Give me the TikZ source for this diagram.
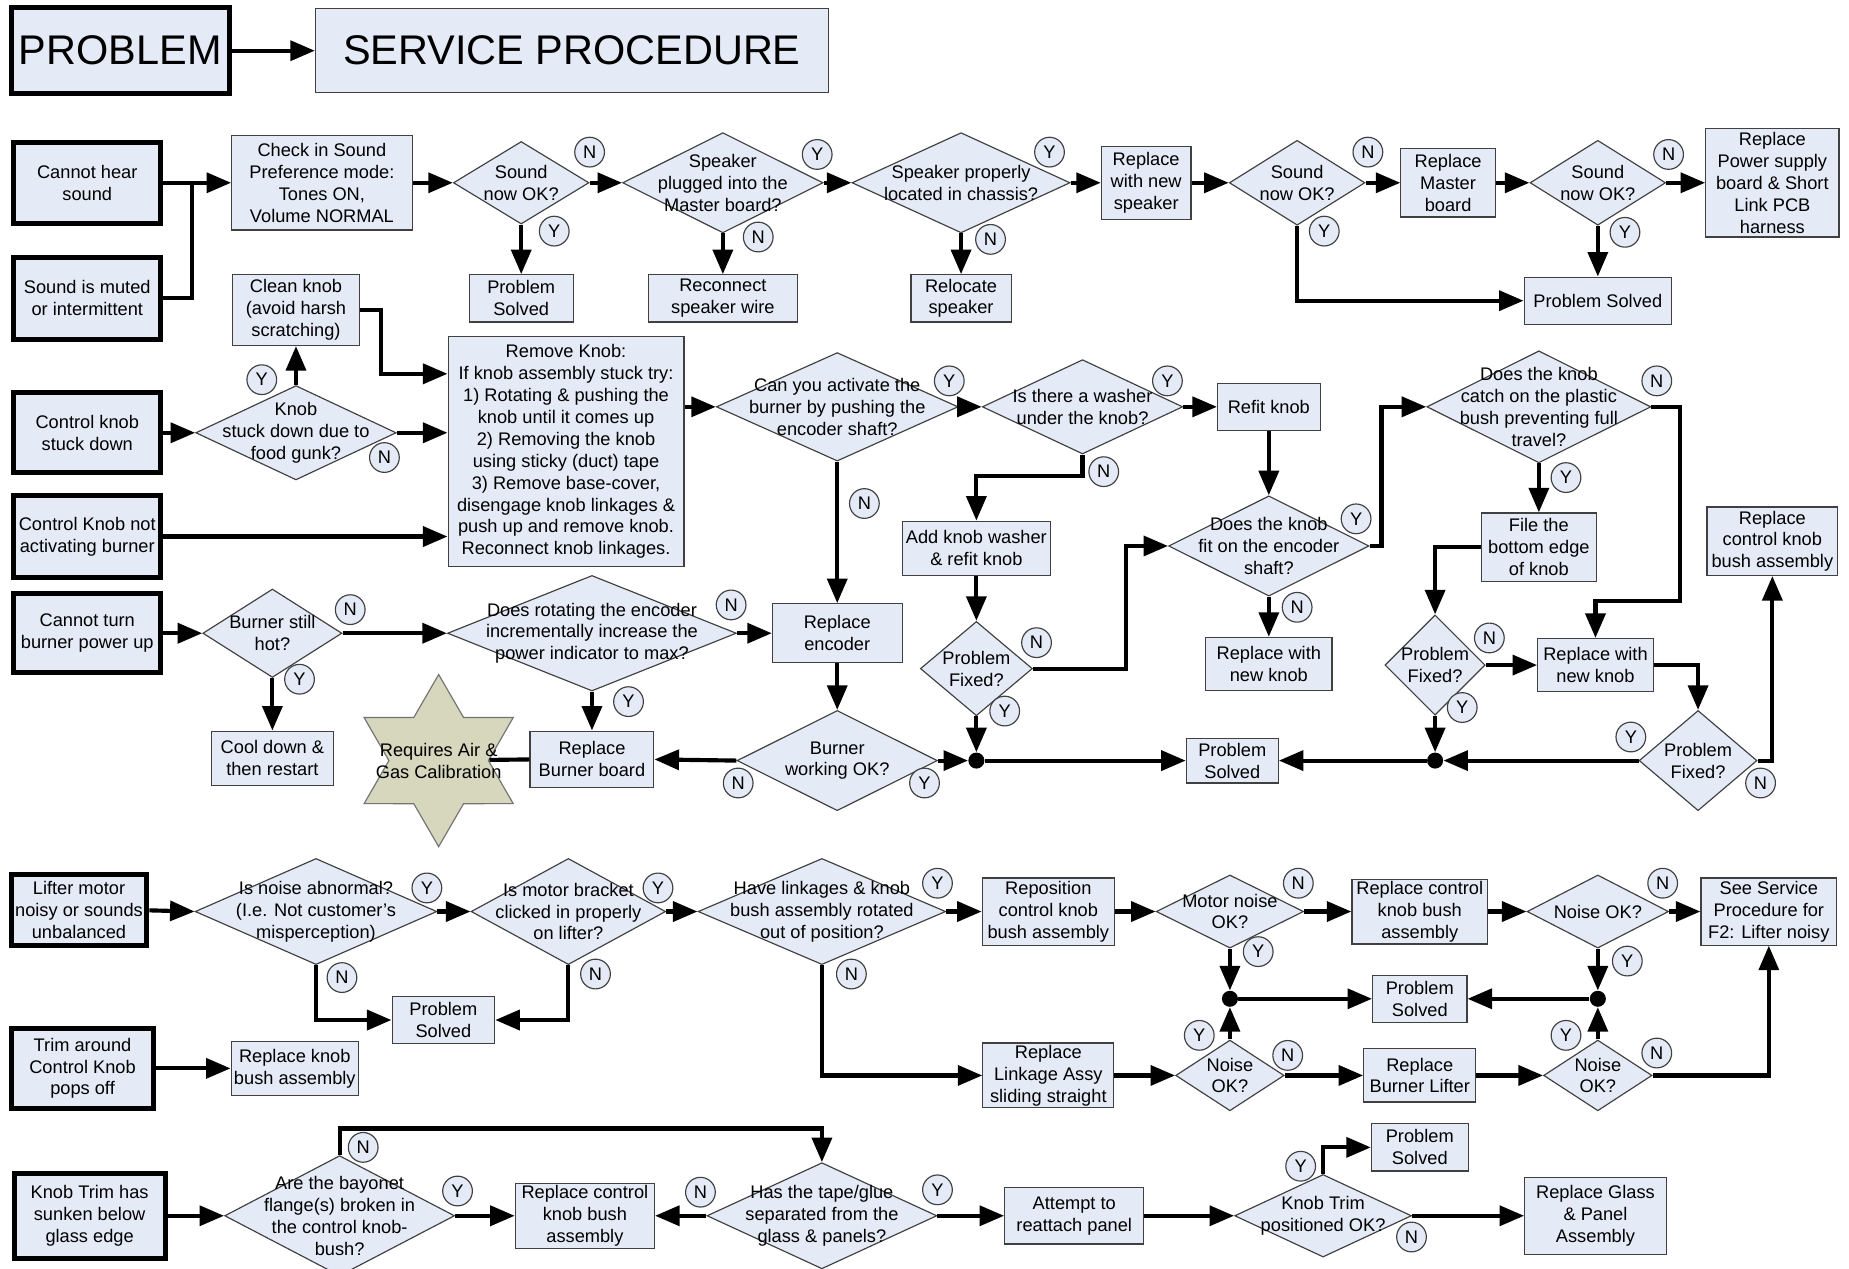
\documentclass[tikz,border=0pt]{standalone}
\usepackage{fontspec}
\setmainfont{Liberation Sans}
\usetikzlibrary{arrows.meta, positioning, shapes.geometric}
\definecolor{boxfill}{RGB}{228,234,246}
\definecolor{starfill}{RGB}{214,215,188}
\definecolor{rimgray}{RGB}{64,64,64}

\begin{document}
\begin{tikzpicture}[
  x=0.25mm, y=-0.25mm,
  font=\fontsize{11}{13.2}\selectfont,
  box/.style={rectangle, draw=rimgray, fill=boxfill, line width=0.7pt, align=center, inner sep=1pt},
  prob/.style={box, draw=black, line width=3pt},
  dec/.style={diamond, draw=rimgray, fill=boxfill, line width=0.7pt, inner sep=0pt, label={[align=center]center:#1}},
  calib/.style={star, star points=6, star point ratio=1.73, draw=black!55, fill=starfill, line width=0.7pt, inner sep=0pt, minimum size=36.5mm, label={[align=center]center:#1}},
  yn/.style={circle, draw=rimgray, fill=boxfill, line width=0.7pt, inner sep=0pt, minimum size=6.3mm},
  dot/.style={circle, fill=black, inner sep=0pt, minimum size=3.4mm},
  sz/.style 2 args={minimum width=#1*0.25mm, minimum height=#2*0.25mm},
  flow/.style={line width=2.5pt, -{Triangle[length=5.2mm, width=4.2mm]}},
  wire/.style={line width=2.5pt},
  bigtext/.style={font=\fontsize{25}{30}\selectfont}
]
  \useasboundingbox (0,0) rectangle (1568,1076);
  \node[prob, bigtext, sz={185}{73}] (problem) at (102,43) {PROBLEM};
  \node[box, bigtext, sz={435}{71}] (service) at (485,43) {SERVICE PROCEDURE};

  \node[prob, sz={125}{69}] (cannot) at (74,155) {Cannot hear\\sound};
  \node[prob, sz={125}{69}] (muted) at (74,253) {Sound is muted\\or intermittent};
  \coordinate (jm) at (163,155);
  \node[box, sz={153}{80}] (check) at (273,155) {Check in Sound\\Preference mode:\\Tones ON,\\Volume NORMAL};
  \node[dec={Sound\\now OK?}, sz={115}{70}] (d1) at (442,155) {};
  \node[box, sz={88}{40}] (ps1) at (442,253) {Problem\\Solved};
  \node[dec={Speaker\\plugged into the\\Master board?}, sz={170}{85}] (d2) at (613,155) {};
  \node[box, sz={126}{40}] (reconnect) at (613,253) {Reconnect\\speaker wire};
  \node[dec={Speaker properly\\located in chassis?}, sz={185}{85}] (d3) at (815,155) {};
  \node[box, sz={85}{40}] (relocate) at (815,253) {Relocate\\speaker};
  \node[box, sz={76}{62}] (newspk) at (972,155) {Replace\\with new\\speaker};
  \node[dec={Sound\\now OK?}, sz={115}{72}] (d4) at (1100,155) {};
  \node[box, sz={80}{58}] (master) at (1228,155) {Replace\\Master\\board};
  \node[dec={Sound\\now OK?}, sz={115}{72}] (d5) at (1355,155) {};
  \node[box, sz={113}{92}] (psu) at (1503,155) {Replace\\Power supply\\board \& Short\\Link PCB\\harness};
  \node[box, sz={125}{40}] (ps2) at (1355,255) {Problem Solved};

  \node[box, sz={108}{60}] (clean) at (251,263) {Clean knob\\(avoid harsh\\scratching)};
  \node[prob, sz={125}{68}] (stuck) at (74,367) {Control knob\\stuck down};
  \node[dec={Knob\\stuck down due to\\food gunk?}, sz={170}{80}] (dknob) at (251,367) {};
  \node[box, sz={200}{195}] (remove) at (480,383) {Remove Knob:\\If knob assembly stuck try:\\1) Rotating \& pushing the\\knob until it comes up\\2) Removing the knob\\using sticky (duct) tape\\3) Remove base-cover,\\disengage knob linkages \&\\push up and remove knob.\\Reconnect knob linkages.};
  \node[prob, sz={125}{70}] (notact) at (74,455) {Control Knob not\\activating burner};
  \node[dec={Can you activate the\\burner by pushing the\\encoder shaft?}, sz={205}{92}] (dact) at (710,345) {};
  \node[dec={Is there a washer\\under the knob?}, sz={170}{80}] (dwasher) at (918,345) {};
  \node[box, sz={87}{40}] (refit) at (1076,345) {Refit knob};
  \node[box, sz={125}{46}] (addwasher) at (828,465) {Add knob washer\\\& refit knob};
  \node[dec={Does the knob\\fit on the encoder\\shaft?}, sz={170}{85}] (dfit) at (1076,463) {};
  \node[dec={Does the knob\\catch on the plastic\\bush preventing full\\travel?}, sz={190}{95}] (dcatch) at (1305,345) {};
  \node[box, sz={98}{58}] (file) at (1305,464) {File the\\bottom edge\\of knob};
  \node[box, sz={107}{45}] (newknob1) at (1076,563) {Replace with\\new knob};
  \node[box, sz={111}{58}] (bushrep1) at (1503,459) {Replace\\control knob\\bush assembly};

  \node[prob, sz={125}{67}] (cantturn) at (74,537) {Cannot turn\\burner power up};
  \node[dec={Burner still\\hot?}, sz={118}{75}] (dhot) at (231,537) {};
  \node[box, sz={104}{46}] (cool) at (231,643) {Cool down \&\\then restart};
  \node[dec={Does rotating the encoder\\incrementally increase the\\power indicator to max?}, sz={245}{98}] (drot) at (502,537) {};
  \node[box, sz={110}{50}] (encoder) at (710,537) {Replace\\encoder};
  \node[box, sz={105}{48}] (burnerboard) at (502,644) {Replace\\Burner board};
  \node[calib={Requires Air \&\\Gas Calibration}] (calibstar) at (372,645) {};
  \node[dec={Burner\\working OK?}, sz={170}{85}] (dburn) at (710,645) {};
  \node[dot] (j1) at (828,645) {};
  \node[dec={Problem\\Fixed?}, sz={95}{80}] (pfix1) at (828,567) {};
  \node[box, sz={78}{38}] (ps3) at (1045,645) {Problem\\Solved};
  \node[dec={Problem\\Fixed?}, sz={85}{85}] (pfix2) at (1217,564) {};
  \node[box, sz={98}{45}] (newknob2) at (1353,564) {Replace with\\new knob};
  \node[dot] (j2) at (1217,645) {};
  \node[dec={Problem\\Fixed?}, sz={100}{85}] (pfix3) at (1440,645) {};

  \node[prob, sz={115}{60}] (lifter) at (67,772) {Lifter motor\\noisy or sounds\\unbalanced};
  \node[dec={Is noise abnormal?\\(I.e. Not customer's\\misperception)}, sz={205}{90}] (dabn) at (268,773) {};
  \node[dec={Is motor bracket\\clicked in properly\\on lifter?}, sz={165}{90}] (dbrk) at (482,773) {};
  \node[box, sz={87}{40}] (ps4) at (376,865) {Problem\\Solved};
  \node[dec={Have linkages \& knob\\bush assembly rotated\\out of position?}, sz={210}{90}] (dlink) at (697,773) {};
  \node[box, sz={112}{57}] (repos) at (889,773) {Reposition\\control knob\\bush assembly};
  \node[dec={Motor noise\\OK?}, sz={125}{62}] (dmotor) at (1043,773) {};
  \node[box, sz={115}{55}] (bushrep2) at (1204,773) {Replace control\\knob bush\\assembly};
  \node[dec={Noise OK?}, sz={120}{62}] (dnoise1) at (1355,773) {};
  \node[box, sz={115}{57}] (f2) at (1500,773) {See Service\\Procedure for\\F2: Lifter noisy};
  \node[dot] (j3) at (1043,847) {};
  \node[dot] (j4) at (1355,847) {};
  \node[box, sz={80}{40}] (ps5) at (1204,847) {Problem\\Solved};
  \node[box, sz={111}{55}] (linkassy) at (889,912) {Replace\\Linkage Assy\\sliding straight};
  \node[dec={Noise\\OK?}, sz={92}{60}] (dnoise2) at (1043,912) {};
  \node[box, sz={95}{45}] (burnerlifter) at (1204,912) {Replace\\Burner Lifter};
  \node[dec={Noise\\OK?}, sz={92}{60}] (dnoise3) at (1355,912) {};

  \node[prob, sz={120}{68}] (trimpop) at (70,906) {Trim around\\Control Knob\\pops off};
  \node[box, sz={108}{46}] (knobbush) at (250,906) {Replace knob\\bush assembly};
  \node[prob, sz={128}{72}] (trimsunk) at (76,1031) {Knob Trim has\\sunken below\\glass edge};
  \node[dec={Are the bayonet\\flange(s) broken in\\the control knob-\\bush?}, sz={195}{102}] (dbayo) at (288,1031) {};
  \node[box, sz={118}{55}] (bushrep3) at (496,1031) {Replace control\\knob bush\\assembly};
  \node[dec={Has the tape/glue\\separated from the\\glass \& panels?}, sz={195}{90}] (dtape) at (697,1031) {};
  \node[box, sz={118}{48}] (reattach) at (911,1031) {Attempt to\\reattach panel};
  \node[dec={Knob Trim\\positioned OK?}, sz={150}{70}] (dtrim) at (1122,1031) {};
  \node[box, sz={82}{40}] (ps6) at (1204,973) {Problem\\Solved};
  \node[box, sz={120}{65}] (glass) at (1353,1031) {Replace Glass\\\& Panel\\Assembly};

  \draw[flow] (problem) -- (service);
  \draw[wire] (cannot.east) -- (jm);
  \draw[wire] (muted.east) -| (jm);
  \draw[flow] (jm) -- (check.west);
  \draw[flow] (check.east) -- (d1.west);
  \draw[flow] (d1.east) -- (d2.west);
  \draw[flow] (d1.south) -- (ps1.north);
  \draw[flow] (d2.east) -- (d3.west);
  \draw[flow] (d2.south) -- (reconnect.north);
  \draw[flow] (d3.east) -- (newspk.west);
  \draw[flow] (d3.south) -- (relocate.north);
  \draw[flow] (newspk.east) -- (d4.west);
  \draw[flow] (d4.east) -- (master.west);
  \draw[flow] (d4.south) |- (ps2.west);
  \draw[flow] (master.east) -- (d5.west);
  \draw[flow] (d5.east) -- (psu.west);
  \draw[flow] (d5.south) -- (ps2.north);

  \draw[flow] (stuck.east) -- (dknob.west);
  \draw[flow] (dknob.north) -- (clean.south);
  \draw[flow] (clean.east) -| (323,317) -- (remove.west |- 323,317);
  \draw[flow] (dknob.east) -- (dknob.east -| remove.west);
  \draw[flow] (notact.east) -- (notact.east -| remove.west);
  \draw[flow] (remove.east |- dact.west) -- (dact.west);
  \draw[flow] (dact.east) -- (dwasher.west);
  \draw[flow] (dact.south) -- (encoder.north);
  \draw[flow] (dwasher.east) -- (refit.west);
  \draw[flow] (dwasher.south) -- ++(0,18) -| (addwasher.north);
  \draw[flow] (refit.south) -- (dfit.north);
  \draw[flow] (dfit.east) -- ++(10,0) |- (dcatch.west);
  \draw[flow] (dfit.south) -- (newknob1.north);
  \draw[flow] (dcatch.south) -- (file.north);
  \draw[flow] (dcatch.east) -| (1425,510) -| (newknob2.north);

  \draw[flow] (cantturn.east) -- (dhot.west);
  \draw[flow] (dhot.south) -- (cool.north);
  \draw[flow] (dhot.east) -- (drot.west);
  \draw[flow] (drot.east) -- (encoder.west);
  \draw[flow] (drot.south) -- (burnerboard.north);
  \draw[wire] (burnerboard.west) -- (calibstar);
  \draw[flow] (encoder.south) -- (dburn.north);
  \draw[flow] (dburn.west) -- (burnerboard.east);
  \draw[flow] (dburn.east) -- (j1);
  \draw[flow] (addwasher.south) -- (pfix1.north);
  \draw[flow] (pfix1.south) -- (j1);
  \draw[flow] (pfix1.east) -| (955,463) -- (dfit.west);
  \draw[flow] (j1) -- (ps3.west);
  \draw[flow] (file.west) -| (pfix2.north);
  \draw[flow] (pfix2.east) -- (newknob2.west);
  \draw[flow] (pfix2.south) -- (j2);
  \draw[flow] (j2) -- (ps3.east);
  \draw[flow] (newknob2.east) -| (pfix3.north);
  \draw[flow] (pfix3.west) -- (j2);
  \draw[flow] (pfix3.east) -| (bushrep1.south);

  \draw[flow] (lifter.east) -- (dabn.west);
  \draw[flow] (dabn.east) -- (dbrk.west);
  \draw[flow] (dabn.south) |- (ps4.west);
  \draw[flow] (dbrk.south) |- (ps4.east);
  \draw[flow] (dbrk.east) -- (dlink.west);
  \draw[flow] (dlink.east) -- (repos.west);
  \draw[flow] (dlink.south) |- (linkassy.west);
  \draw[flow] (repos.east) -- (dmotor.west);
  \draw[flow] (dmotor.east) -- (bushrep2.west);
  \draw[flow] (dmotor.south) -- (j3);
  \draw[flow] (bushrep2.east) -- (dnoise1.west);
  \draw[flow] (dnoise1.east) -- (f2.west);
  \draw[flow] (dnoise1.south) -- (j4);
  \draw[flow] (j3) -- (ps5.west);
  \draw[flow] (j4) -- (ps5.east);
  \draw[flow] (linkassy.east) -- (dnoise2.west);
  \draw[flow] (dnoise2.north) -- (j3);
  \draw[flow] (dnoise2.east) -- (burnerlifter.west);
  \draw[flow] (burnerlifter.east) -- (dnoise3.west);
  \draw[flow] (dnoise3.north) -- (j4);
  \draw[flow] (dnoise3.east) -| (f2.south);

  \draw[flow] (trimpop.east) -- (knobbush.west);
  \draw[flow] (trimsunk.east) -- (dbayo.west);
  \draw[flow] (dbayo.east) -- (bushrep3.west);
  \draw[flow] (dbayo.north) |- (697,957) -- (dtape.north);
  \draw[flow] (dtape.west) -- (bushrep3.east);
  \draw[flow] (dtape.east) -- (reattach.west);
  \draw[flow] (reattach.east) -- (dtrim.west);
  \draw[flow] (dtrim.north) |- (ps6.west);
  \draw[flow] (dtrim.east) -- (glass.west);

  \node[yn] (d1n) at (500,129) {N};
  \node[yn] (d1y) at (470,196) {Y};
  \node[yn] (d2y) at (693,131) {Y};
  \node[yn] (d2n) at (643,201) {N};
  \node[yn] (d3y) at (890,129) {Y};
  \node[yn] (d3n) at (840,203) {N};
  \node[yn] (d4n) at (1160,129) {N};
  \node[yn] (d4y) at (1123,196) {Y};
  \node[yn] (d5n) at (1415,131) {N};
  \node[yn] (d5y) at (1378,197) {Y};
  \node[yn] (dknoby) at (222,322) {Y};
  \node[yn] (dknobn) at (326,388) {N};
  \node[yn] (dacty) at (805,323) {Y};
  \node[yn] (dactn) at (733,427) {N};
  \node[yn] (dwashery) at (990,323) {Y};
  \node[yn] (dwashern) at (936,400) {N};
  \node[yn] (dfity) at (1150,440) {Y};
  \node[yn] (dfitn) at (1100,515) {N};
  \node[yn] (dcatchn) at (1405,323) {N};
  \node[yn] (dcatchy) at (1328,405) {Y};
  \node[yn] (dhotn) at (297,517) {N};
  \node[yn] (dhoty) at (254,576) {Y};
  \node[yn] (drotn) at (620,513) {N};
  \node[yn] (droty) at (533,595) {Y};
  \node[yn] (pfix1n) at (879,545) {N};
  \node[yn] (pfix1y) at (852,603) {Y};
  \node[yn] (pfix2n) at (1263,541) {N};
  \node[yn] (pfix2y) at (1240,600) {Y};
  \node[yn] (dburnn) at (626,664) {N};
  \node[yn] (dburny) at (784,664) {Y};
  \node[yn] (pfix3y) at (1383,625) {Y};
  \node[yn] (pfix3n) at (1493,664) {N};
  \node[yn] (dabny) at (362,753) {Y};
  \node[yn] (dabnn) at (290,829) {N};
  \node[yn] (dbrky) at (558,753) {Y};
  \node[yn] (dbrkn) at (505,826) {N};
  \node[yn] (dlinky) at (795,749) {Y};
  \node[yn] (dlinkn) at (722,826) {N};
  \node[yn] (dmotorn) at (1101,749) {N};
  \node[yn] (dmotory) at (1067,807) {Y};
  \node[yn] (dnoise1n) at (1410,749) {N};
  \node[yn] (dnoise1y) at (1380,815) {Y};
  \node[yn] (dnoise2y) at (1017,878) {Y};
  \node[yn] (dnoise2n) at (1092,895) {N};
  \node[yn] (dnoise3y) at (1328,878) {Y};
  \node[yn] (dnoise3n) at (1405,893) {N};
  \node[yn] (dbayon) at (308,973) {N};
  \node[yn] (dbayoy) at (388,1010) {Y};
  \node[yn] (dtapen) at (594,1011) {N};
  \node[yn] (dtapey) at (795,1009) {Y};
  \node[yn] (dtrimy) at (1103,989) {Y};
  \node[yn] (dtrimn) at (1197,1049) {N};
\end{tikzpicture}
\end{document}
